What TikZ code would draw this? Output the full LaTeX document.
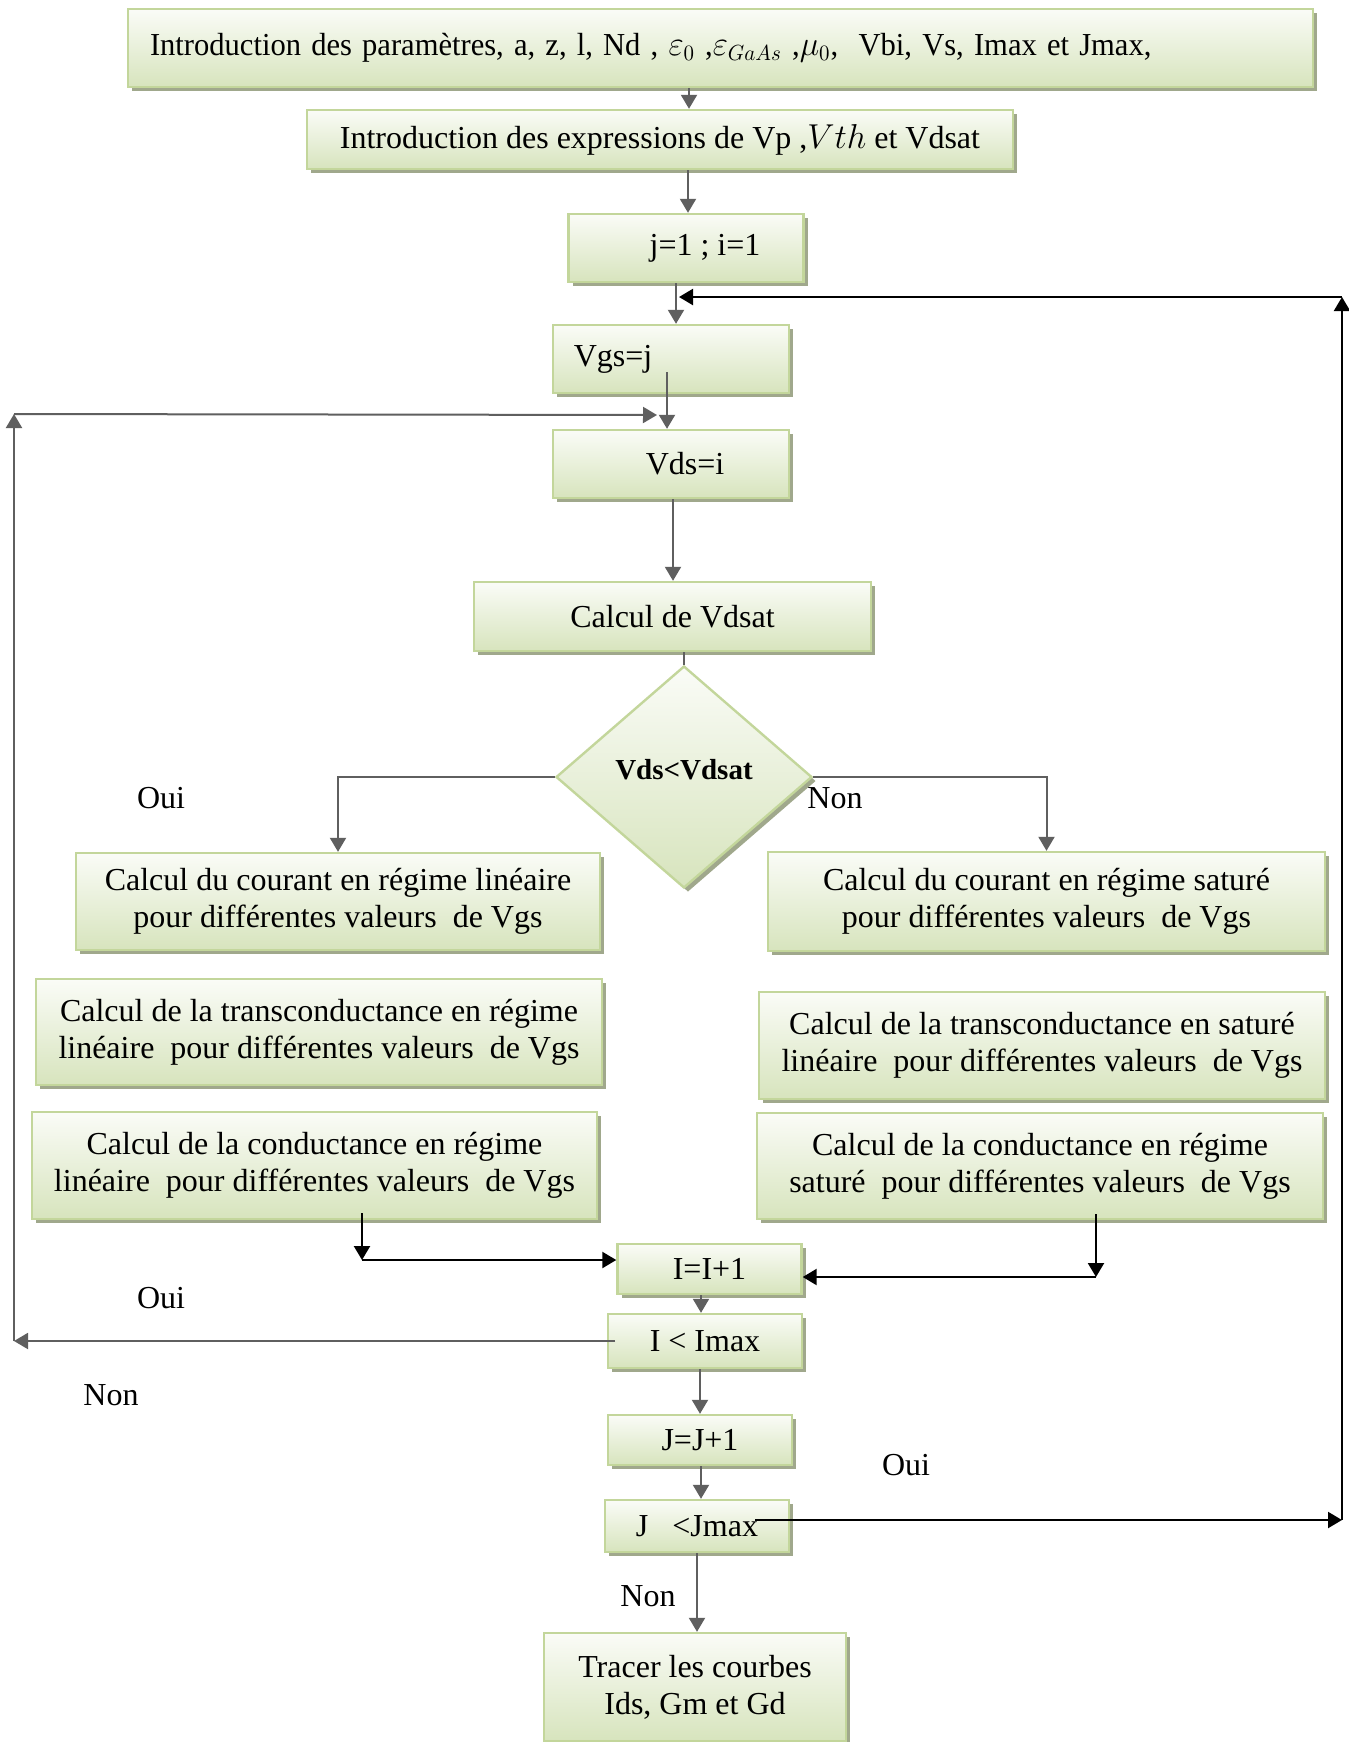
\documentclass[tikz,border=0pt]{standalone}
\usepackage{fontspec}
\setmainfont{Liberation Serif}
\usetikzlibrary{shapes.geometric,arrows.meta,shadows}
\definecolor{boxfill}{RGB}{215,228,189}
\definecolor{boxline}{RGB}{195,214,155}
\definecolor{shadowcol}{RGB}{160,168,140}
\definecolor{arrgray}{RGB}{95,95,95}
\begin{document}
\begin{tikzpicture}[x=0.5pt,y=-0.5pt,
  txt/.style={font=\fontsize{16pt}{18.5pt}\selectfont, inner sep=0pt},
  box/.style={txt, rectangle, draw=boxline, line width=1.2pt,
    top color=boxfill!12, bottom color=boxfill, align=center,
    drop shadow={fill=shadowcol, opacity=1, shadow xshift=2pt, shadow yshift=-2pt}},
  dec/.style={box, diamond, font=\fontsize{14.5pt}{17pt}\selectfont\bfseries},
  garrow/.style={draw=arrgray, line width=1pt, -{Triangle[length=7pt,width=8pt]}},
  gline/.style={draw=arrgray, line width=1pt},
  barrow/.style={draw=black, line width=1.1pt, -{Triangle[length=7pt,width=8pt]}}
]
\fill[white] (0,0) rectangle (1349,1742);
\useasboundingbox (0,0) rectangle (1349,1742);

\node[box, minimum width=592.5pt, minimum height=39pt, text width=570.5pt, align=left] (b1) at (720.5,48)
  {\scalebox{0.955}[1]{Introduction des paramètres, a, z, l, Nd , $\varepsilon_{0}$ ,$\varepsilon_{GaAs}$ ,$\mu_{0}$,\ \ Vbi, Vs, Imax et Jmax,}};
\node[box, minimum width=353pt, minimum height=29.5pt] (b2) at (660,139.5)
  {Introduction des expressions de Vp ,$Vth$ et Vdsat};
\node[box, minimum width=117.5pt, minimum height=34pt] (b3) at (686,248)
  {\hspace*{19pt}j=1 ; i=1};
\node[box, minimum width=118pt, minimum height=34pt] (vgs) at (671,359)
  {Vgs=j\hspace*{58pt}};
\node[box, minimum width=118pt, minimum height=34pt] (vds) at (671,464)
  {\hspace*{14pt}Vds=i};
\node[box, minimum width=198.5pt, minimum height=34.5pt] (calc) at (672.5,616.5)
  {Calcul de Vdsat};
\node[dec, minimum width=128pt, minimum height=111pt] (dia) at (684,777) {\raisebox{8pt}{Vds<Vdsat}};

\node[box, minimum width=262pt, minimum height=48.5pt] (b7) at (338,901.5)
  {Calcul du courant en régime linéaire\\pour différentes valeurs\ \ de Vgs};
\node[box, minimum width=278.5pt, minimum height=49.5pt] (b8) at (1046.5,901.5)
  {Calcul du courant en régime saturé\\pour différentes valeurs\ \ de Vgs};
\node[box, minimum width=283pt, minimum height=53pt] (b9) at (319,1032)
  {Calcul de la transconductance en régime\\linéaire\ \ pour différentes valeurs\ \ de Vgs};
\node[box, minimum width=283pt, minimum height=53.5pt] (b10) at (1042,1045.5)
  {Calcul de la transconductance en saturé\\linéaire\ \ pour différentes valeurs\ \ de Vgs};
\node[box, minimum width=282.5pt, minimum height=53.5pt] (b11) at (314.5,1165.5)
  {Calcul de la conductance en régime\\linéaire\ \ pour différentes valeurs\ \ de Vgs};
\node[box, minimum width=283pt, minimum height=53pt] (b12) at (1040,1166)
  {Calcul de la conductance en régime\\saturé\ \ pour différentes valeurs\ \ de Vgs};

\node[box, minimum width=92pt, minimum height=25pt] (ii) at (709.5,1269) {I=I+1};
\node[box, minimum width=97pt, minimum height=27pt] (imax) at (705,1341) {I < Imax};
\node[box, minimum width=92pt, minimum height=25pt] (jj) at (700,1440) {J=J+1};
\node[box, minimum width=92pt, minimum height=26pt] (jmax) at (697,1526) {J\ \ \ <Jmax};
\node[box, minimum width=151pt, minimum height=54pt] (trace) at (695,1687)
  {Tracer les courbes\\Ids, Gm et Gd};

\node[txt] (l1) at (161,798) {Oui};
\node[txt] (l2) at (835,798) {Non};
\node[txt] (l3) at (161,1298) {Oui};
\node[txt] (l4) at (111,1395) {Non};
\node[txt] (l5) at (906,1465) {Oui};
\node[txt] (l6) at (648,1596) {Non};

% main vertical flow
\draw[garrow] (689,0 |- b1.south) -- (689,0 |- b2.north);
\draw[garrow] (688,0 |- b2.south) -- (688,0 |- b3.north);
\draw[garrow] (676,0 |- b3.south) -- (676,0 |- vgs.north);
\coordinate (vgsin) at (667,372);
\draw[garrow] (vgsin) -- (vgsin |- vds.north);
\draw[garrow] (673,0 |- vds.south) -- (673,0 |- calc.north);
\draw[gline] (dia.north |- calc.south) -- (dia.north);
\draw[garrow] (dia.west) -| (b7.north);
\draw[garrow] (dia.east) -| (b8.north);
\draw[garrow] (701,0 |- ii.south) -- (701,0 |- imax.north);
\draw[garrow] (700,0 |- imax.south) -- (700,0 |- jj.north);
\draw[garrow] (701,0 |- jj.south) -- (701,0 |- jmax.north);
\draw[gline, dash pattern=on 6pt off 2pt on 3pt off 2pt] (697,0 |- jmax.south) -- (697,1560);
\draw[garrow] (697,1560) -- (697,0 |- trace.north);

% left loop (gray)
\coordinate (imaxin) at (615,1341);
\coordinate (LB) at (14,1341);
\coordinate (LT) at (14,414);
\coordinate (LE) at (657,415);
\draw[garrow] (imaxin) -- (LB);
\draw[garrow] (LB) -- (LT);
\draw[garrow] (LT) -- (LE);

% black merge arrows
\coordinate (b11s) at (362,1213);
\coordinate (b11c) at (362,1260);
\draw[barrow] (b11s) -- (b11c);
\draw[barrow] (b11c) -- (b11c -| ii.west);
\coordinate (b12s) at (1096,1214);
\coordinate (b12c) at (1096,1277);
\draw[barrow] (b12s) -- (b12c);
\draw[barrow] (b12c) -- (b12c -| ii.east);

% right loop (black)
\coordinate (jmaxin) at (755,1520);
\coordinate (RB) at (1342,1520);
\coordinate (RT) at (1342,297);
\coordinate (RE) at (679,297);
\draw[barrow] (jmaxin) -- (RB);
\draw[barrow] (RB) -- (RT);
\draw[barrow] (RT) -- (RE);
\end{tikzpicture}
\end{document}
